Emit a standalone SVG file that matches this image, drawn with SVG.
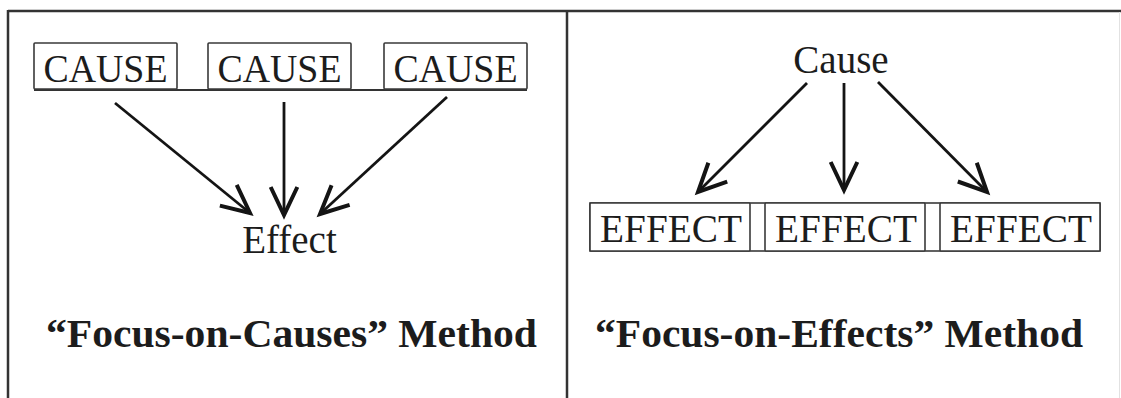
<svg xmlns="http://www.w3.org/2000/svg" width="1121" height="398" viewBox="0 0 1121 398">
<style>
.frame{stroke:#333;stroke-width:2.5;fill:none}
.box{stroke:#3a3a3a;stroke-width:1.6;fill:#fff}
.lbl{font-family:"Liberation Serif","Times New Roman",serif;fill:#1c1c1c;text-anchor:middle}
.title{font-family:"Liberation Serif","Times New Roman",serif;font-weight:bold;fill:#1c1c1c;text-anchor:middle;font-size:41px}
.arr{stroke:#141414;stroke-width:2.8;fill:none;marker-end:url(#ah)}
</style>
<defs>
<marker id="ah" markerUnits="userSpaceOnUse" orient="auto" refX="0" refY="0" markerWidth="40" markerHeight="40" viewBox="-25 -15 30 30" overflow="visible">
<path d="M-21,-10 L0,0 L-21,10" fill="none" stroke="#141414" stroke-width="3" stroke-linejoin="miter"/>
</marker>
</defs>
<rect width="1121" height="398" fill="#fff"/>
<g id="frame">
<line class="frame" x1="8" y1="11" x2="1121" y2="11"/>
<line class="frame" x1="8" y1="10" x2="8" y2="398"/>
<line class="frame" x1="567" y1="10" x2="567" y2="398"/>
<line x1="1119.5" y1="12" x2="1119.5" y2="398" stroke="#e2e2e2" stroke-width="1"/>
</g>
<g id="cause-row">
<line x1="34" y1="90" x2="527" y2="90" stroke="#333" stroke-width="2"/>
</g>
<g id="cause1">
<rect class="box" x="34" y="43" width="143" height="46" rx="1"/>
<text class="lbl" x="105.5" y="82" font-size="41" textLength="124" lengthAdjust="spacingAndGlyphs">CAUSE</text>
</g>
<g id="cause2">
<rect class="box" x="208" y="43" width="143" height="46" rx="1"/>
<text class="lbl" x="279.5" y="82" font-size="41" textLength="124" lengthAdjust="spacingAndGlyphs">CAUSE</text>
</g>
<g id="cause3">
<rect class="box" x="384" y="43" width="143" height="46" rx="1"/>
<text class="lbl" x="455.5" y="82" font-size="41" textLength="124" lengthAdjust="spacingAndGlyphs">CAUSE</text>
</g>
<g id="effect-left">
<text class="lbl" x="289.5" y="253" font-size="39">Effect</text>
</g>
<g id="title-left">
<text class="title" x="291.5" y="347" textLength="491" lengthAdjust="spacingAndGlyphs">“Focus-on-Causes” Method</text>
</g>
<g id="cause-right">
<text class="lbl" x="841" y="73" font-size="39">Cause</text>
</g>
<g id="effect-row">
<rect x="590" y="203" width="510" height="48" fill="none" stroke="#3a3a3a" stroke-width="1.6"/>
</g>
<g id="effect1">
<rect class="box" x="590" y="203" width="160" height="48" rx="1"/>
<text class="lbl" x="671" y="242" font-size="40" textLength="142" lengthAdjust="spacingAndGlyphs">EFFECT</text>
</g>
<g id="effect2">
<rect class="box" x="765" y="203" width="160" height="48" rx="1"/>
<text class="lbl" x="846" y="242" font-size="40" textLength="142" lengthAdjust="spacingAndGlyphs">EFFECT</text>
</g>
<g id="effect3">
<rect class="box" x="940" y="203" width="160" height="48" rx="1"/>
<text class="lbl" x="1021" y="242" font-size="40" textLength="142" lengthAdjust="spacingAndGlyphs">EFFECT</text>
</g>
<g id="title-right">
<text class="title" x="839" y="347" textLength="488" lengthAdjust="spacingAndGlyphs">“Focus-on-Effects” Method</text>
</g>
<g id="connectors">
<line class="arr" x1="115" y1="103" x2="250" y2="213"/>
<line class="arr" x1="284" y1="102" x2="284" y2="215"/>
<line class="arr" x1="447" y1="97" x2="320" y2="214"/>
<line class="arr" x1="807" y1="83" x2="698" y2="192"/>
<line class="arr" x1="844" y1="83" x2="844" y2="190"/>
<line class="arr" x1="878" y1="82" x2="987" y2="192"/>
</g>
</svg>
